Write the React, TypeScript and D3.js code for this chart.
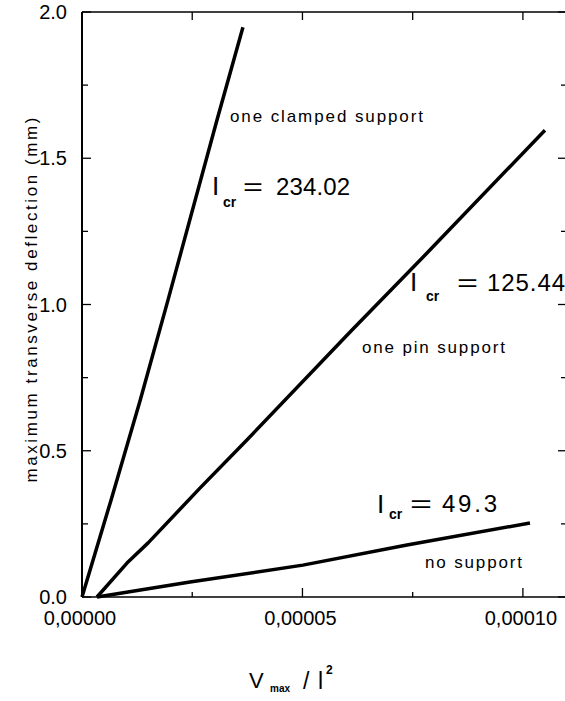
import React from "react";
import * as d3 from "d3";

// ---- data ----
const clampedX = [0, 6.6e-6, 13.2e-6, 19.5e-6, 30.6e-6, 36.5e-6];
const clampedY = [0, 0.332, 0.673, 1.015, 1.63, 1.948];
const pinX = [3.4e-6, 10.2e-6, 15.0e-6, 26.8e-6, 37.4e-6, 60.8e-6, 78.9e-6, 105.0e-6];
const pinY = [0, 0.116, 0.185, 0.373, 0.537, 0.906, 1.186, 1.596];
const noX = [3.4e-6, 24.5e-6, 50.1e-6, 73.7e-6, 101.6e-6];
const noY = [0, 0.051, 0.109, 0.178, 0.253];

const xTicks = [0, 0.000025, 0.00005, 0.000075, 0.0001];
const xTickLabels = ["0,00000", "0,00005", "0,00010"];
const xLabelTicks = [0, 0.00005, 0.0001];
const yTicks = [0, 0.25, 0.5, 0.75, 1.0, 1.25, 1.5, 1.75, 2.0];
const yLabelTicks = [0, 0.5, 1.0, 1.5, 2.0];
const yTickLabels = ["0.0", "0.5", "1.0", "1.5", "2.0"];

const W = 565;
const H = 701;
const FONT = "'Liberation Sans', Arial, Helvetica, sans-serif";

export default function App() {
  const x = d3.scaleLinear().domain([0, 0.00011]).range([82, 567]);
  const y = d3.scaleLinear().domain([0, 2]).range([597, 12]);
  const line = d3
    .line<[number, number]>()
    .x((d) => x(d[0]))
    .y((d) => y(d[1]));
  const series = [
    d3.zip(clampedX, clampedY) as [number, number][],
    d3.zip(pinX, pinY) as [number, number][],
    d3.zip(noX, noY) as [number, number][],
  ];
  const isMajorX = (v: number) => Math.abs(v / 0.00005 - Math.round(v / 0.00005)) < 1e-6;
  const isMajorY = (v: number) => Math.abs(v / 0.5 - Math.round(v / 0.5)) < 1e-6;
  const [x0, x1] = x.range();
  const [y0, y1] = y.range();

  return (
    <svg
      width={W}
      height={H}
      style={{ position: "absolute", left: 0, top: 0, background: "#fff" }}
      fontFamily={FONT}
    >
      <rect x={0} y={0} width={W} height={H} fill="#fff" />
      {/* frame */}
      <line x1={x0} y1={y0} x2={x0} y2={y1} stroke="#000" strokeWidth={2} />
      <line x1={x0} y1={y0} x2={x1} y2={y0} stroke="#000" strokeWidth={1.5} />
      <line x1={x0} y1={y1} x2={x1} y2={y1} stroke="#000" strokeWidth={1.5} />
      <line x1={x1} y1={y0} x2={x1} y2={y1} stroke="#000" strokeWidth={1.5} />
      {/* x ticks */}
      {xTicks.map((t, i) => {
        const len = isMajorX(t) ? 9 : 5;
        return (
          <g key={"xt" + i}>
            <line x1={x(t)} x2={x(t)} y1={y0} y2={y0 - len} stroke="#000" strokeWidth={1.3} />
            <line x1={x(t)} x2={x(t)} y1={y1} y2={y1 + 8} stroke="#000" strokeWidth={1.3} />
          </g>
        );
      })}
      {/* y ticks */}
      {yTicks.map((t, i) => {
        const len = isMajorY(t) ? 9 : 6;
        return (
          <g key={"yt" + i}>
            <line x1={x0} x2={x0 + len} y1={y(t)} y2={y(t)} stroke="#000" strokeWidth={1.3} />
            <line x1={x1} x2={x1 - len} y1={y(t)} y2={y(t)} stroke="#000" strokeWidth={1.3} />
          </g>
        );
      })}
      {/* tick labels */}
      {yLabelTicks.map((t, i) => (
        <text key={"yl" + i} x={67} y={y(t)} dy="0.36em" textAnchor="end" fontSize={20}>
          {yTickLabels[i]}
        </text>
      ))}
      {xLabelTicks.map((t, i) => (
        <text key={"xl" + i} x={x(t) - 2} y={625} textAnchor="middle" fontSize={20}>
          {xTickLabels[i]}
        </text>
      ))}
      {/* curves */}
      {series.map((s, i) => (
        <path key={"s" + i} d={line(s) || ""} fill="none" stroke="#000" strokeWidth={3.5} strokeLinejoin="round" />
      ))}
      {/* annotations */}
      <text x={230} y={122} fontSize={17} textLength={193} lengthAdjust="spacing">one clamped support</text>
      <text x={362} y={353} fontSize={17} textLength={143} lengthAdjust="spacing">one pin support</text>
      <text x={425} y={568} fontSize={17} textLength={97} lengthAdjust="spacing">no support</text>

      <text x={212} y={195} fontSize={26}>I</text>
      <text x={223} y={207} fontSize={14} fontWeight="bold">cr</text>
      <text x={243} y={195} fontSize={24} textLength={20} lengthAdjust="spacingAndGlyphs">=</text>
      <text x={276} y={195} fontSize={24} textLength={74} lengthAdjust="spacing">234.02</text>

      <text x={410} y={291} fontSize={26}>I</text>
      <text x={426} y={301} fontSize={14} fontWeight="bold">cr</text>
      <text x={457} y={291} fontSize={24} textLength={21} lengthAdjust="spacingAndGlyphs">=</text>
      <text x={487} y={291} fontSize={24} textLength={78} lengthAdjust="spacing">125.44</text>

      <text x={377} y={513} fontSize={26}>I</text>
      <text x={389} y={519} fontSize={14} fontWeight="bold">cr</text>
      <text x={410} y={512} fontSize={24} textLength={22} lengthAdjust="spacingAndGlyphs">=</text>
      <text x={442} y={512} fontSize={24} textLength={55} lengthAdjust="spacing">49.3</text>

      {/* axis titles */}
      <text
        transform="translate(37,300) rotate(-90)"
        textAnchor="middle"
        fontSize={17}
        textLength={365}
        lengthAdjust="spacing"
      >
        maximum transverse deflection (mm)
      </text>
      <text x={249} y={688} fontSize={22}>V</text>
      <text x={270} y={692} fontSize={10} fontWeight="bold">max</text>
      <text x={303} y={689} fontSize={23}>/</text>
      <text x={318} y={689} fontSize={23}>l</text>
      <text x={326} y={674} fontSize={12} fontWeight="bold">2</text>
    </svg>
  );
}
